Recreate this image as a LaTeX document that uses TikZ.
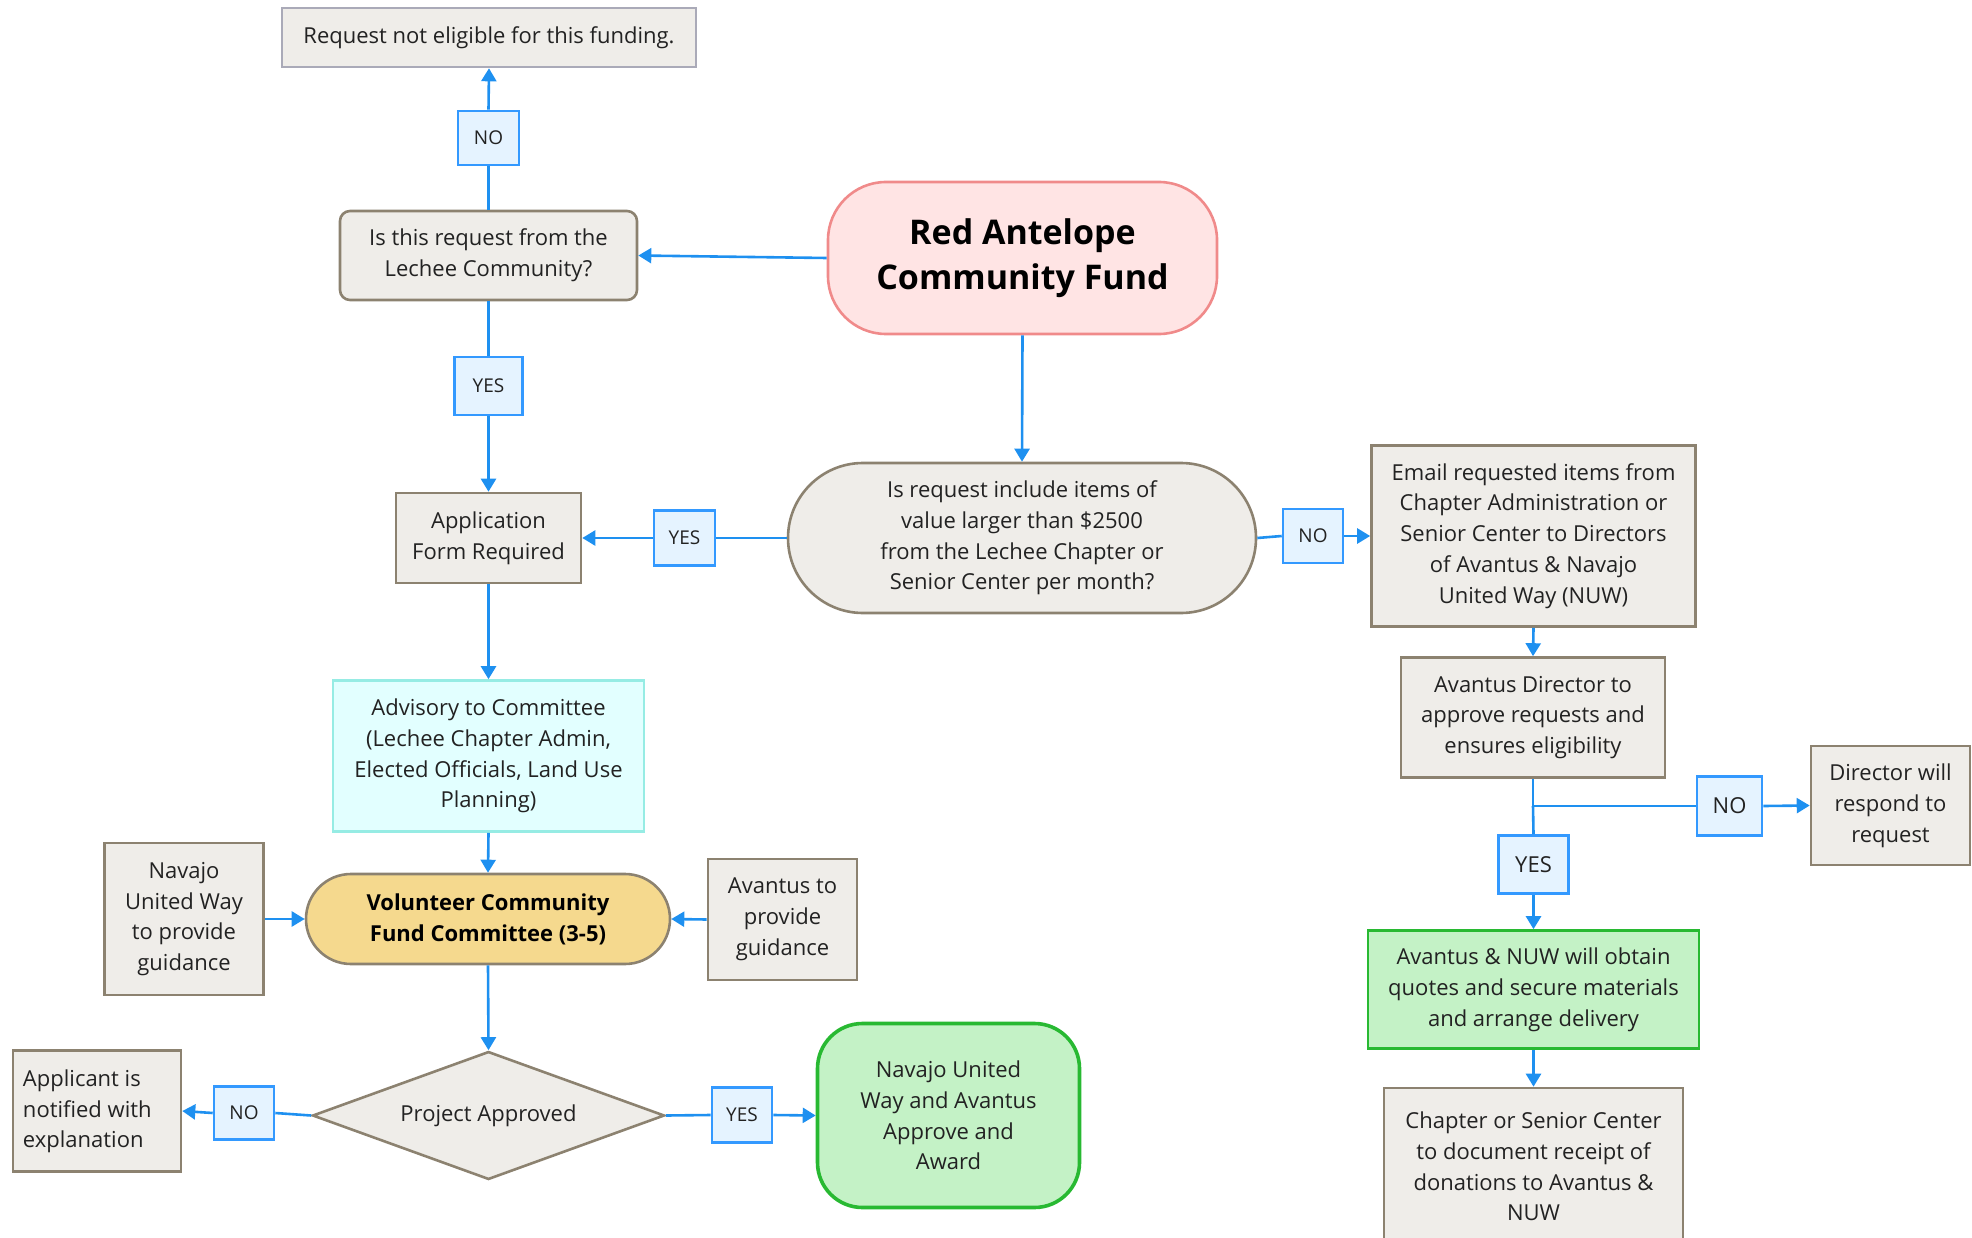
\documentclass[tikz,border=0pt]{standalone}
\usepackage{fontspec}
\setmainfont{Open Sans}
\usetikzlibrary{arrows.meta,shapes.geometric,shapes.misc}
\definecolor{flowblue}{RGB}{30,144,240}
\definecolor{lblfill}{RGB}{229,243,255}
\definecolor{lbldraw}{RGB}{51,153,255}
\definecolor{grayfill}{RGB}{239,237,233}
\definecolor{graydraw}{RGB}{140,130,112}
\definecolor{palegraydraw}{RGB}{170,170,184}
\definecolor{redfill}{RGB}{255,228,228}
\definecolor{reddraw}{RGB}{240,138,138}
\definecolor{cyanfill}{RGB}{226,255,255}
\definecolor{cyandraw}{RGB}{150,236,228}
\definecolor{yellowfill}{RGB}{245,217,142}
\definecolor{greenfill}{RGB}{196,242,198}
\definecolor{greendraw}{RGB}{40,185,50}
\definecolor{txt}{RGB}{34,34,34}
\tikzset{
  basebox/.style={draw=graydraw, fill=grayfill, line width=2.6pt, inner sep=0pt, align=center,
    text=txt, font=\fontsize{22}{30.8}\selectfont},
  graybox/.style={basebox, rectangle},
  lbl/.style={draw=lbldraw, fill=lblfill, line width=2.6pt, inner sep=0pt, text=txt,
    font=\fontsize{19}{22}\selectfont},
  flow/.style={draw=flowblue, line width=2.6pt},
  flowarrow/.style={flow, -{Triangle[width=15pt,length=13pt]}},
}
\begin{document}
\begin{tikzpicture}[x=1pt,y=-1pt]
\useasboundingbox (0,0) rectangle (1972,1238);
\clip (0,0) rectangle (1972,1238);

% main nodes
\node[graybox, draw=palegraydraw, minimum width=414, minimum height=59] (notelig) at (489,37.5) {\raisebox{-2pt}{Request not eligible for this funding.}};
\node[graybox, rounded corners=10pt, minimum width=297, minimum height=89] (lechee) at (488.5,255.5) {Is this request from the\\Lechee Community?};
\node[basebox, draw=reddraw, fill=redfill, rounded corners=58pt, minimum width=389, minimum height=152,
  font=\fontsize{34}{45}\selectfont\bfseries, text=black] (fund) at (1022.5,258) {Red Antelope\\Community Fund};
\node[basebox, rounded rectangle, minimum width=468, minimum height=150] (q2) at (1022,538) {Is request include items of\\value larger than \$2500\\from the Lechee Chapter or\\Senior Center per month?};
\node[graybox, minimum width=185, minimum height=90] (appform) at (488.5,538) {Application\\Form Required};
\node[graybox, minimum width=324, minimum height=181] (email) at (1533.5,536) {Email requested items from\\Chapter Administration or\\Senior Center to Directors\\of Avantus \& Navajo\\United Way (NUW)};
\node[graybox, minimum width=264, minimum height=120] (avdir) at (1533,717.5) {Avantus Director to\\approve requests and\\ensures eligibility};
\node[graybox, minimum width=159, minimum height=119] (dirwill) at (1890.5,805.5) {Director will\\respond to\\request};
\node[graybox, draw=greendraw, fill=greenfill, minimum width=331, minimum height=118] (avnuw) at (1533.5,989.5) {Avantus \& NUW will obtain\\quotes and secure materials\\and arrange delivery};
\node[graybox, minimum width=299, minimum height=157] (chapter) at (1533.5,1166.5) {Chapter or Senior Center\\to document receipt of\\donations to Avantus \&\\NUW};
\node[graybox, draw=cyandraw, fill=cyanfill, minimum width=311, minimum height=151] (advisory) at (488.5,756) {Advisory to Committee\\(Lechee Chapter Admin,\\Elected Officials, Land Use\\Planning)};
\node[basebox, rounded rectangle, fill=yellowfill, minimum width=364, minimum height=90,
  font=\fontsize{22}{31}\selectfont\bfseries, text=black] (volunteer) at (488,919) {Volunteer Community\\Fund Committee (3-5)};
\node[graybox, minimum width=159, minimum height=152] (navuw) at (184,919) {Navajo\\United Way\\to provide\\guidance};
\node[graybox, minimum width=149, minimum height=121] (avguide) at (782.5,919.5) {Avantus to\\provide\\guidance};
\node[basebox, diamond, aspect=2.75, minimum width=352, minimum height=128] (decide) at (488.5,1115.5) {Project Approved};
\node[graybox, align=left, minimum width=168, minimum height=121] (applicant) at (97,1111) {\makebox[148pt][l]{\begin{tabular}{@{}l@{}}Applicant is\\notified with\\explanation\end{tabular}}};
\node[basebox, draw=greendraw, fill=greenfill, line width=3.6pt, rounded corners=45pt, minimum width=262, minimum height=184] (award) at (948.5,1115.5) {Navajo United\\Way and Avantus\\Approve and\\Award};

% junction
\coordinate (junc) at (1533,806);

% connectors
\draw[flowarrow] (fund.west) -- (lechee.east);
\draw[flowarrow] (fund.south) -- (q2.north);
\draw[flowarrow] (appform.south) -- (advisory.north);
\draw[flowarrow] (advisory.south) -- (volunteer.north);
\draw[flowarrow] (navuw.east) -- (volunteer.west);
\draw[flowarrow] (avguide.west) -- (volunteer.east);
\draw[flowarrow] (volunteer.south) -- (decide.north);
\draw[flowarrow] (email.south) -- (avdir.north);
\draw[flowarrow] (avnuw.south) -- (chapter.north);

% labelled connectors
\node[lbl, minimum width=61, minimum height=54] (noA) at (488.5,138) {NO};
\draw[flow] (lechee.north) -- (noA.south);
\draw[flowarrow] (noA.north) -- (notelig.south);

\node[lbl, minimum width=68, minimum height=58] (yesA) at (488.5,386) {YES};
\draw[flow] (lechee.south) -- (yesA.north);
\draw[flowarrow] (yesA.south) -- (appform.north);

\node[lbl, minimum width=61, minimum height=55] (yesB) at (684.5,538) {YES};
\draw[flow] (q2.west) -- (yesB.east);
\draw[flowarrow] (yesB.west) -- (appform.east);

\node[lbl, minimum width=60, minimum height=54] (noB) at (1313,536) {NO};
\draw[flow] (q2.east) -- (noB.west);
\draw[flowarrow] (noB.east) -- (email.west);

\node[lbl, minimum width=65, minimum height=59, font=\fontsize{22}{24}\selectfont] (noC) at (1729.5,806) {NO};
\node[lbl, minimum width=70, minimum height=58, font=\fontsize{22}{24}\selectfont] (yesC) at (1533.5,864.5) {YES};
\draw[flow] (avdir.south) -- (junc) -- (noC.west);
\draw[flowarrow] (noC.east) -- (dirwill.west);
\draw[flow] (junc) -- (yesC.north);
\draw[flowarrow] (yesC.south) -- (avnuw.north);

\node[lbl, minimum width=60, minimum height=53] (noD) at (244,1113) {NO};
\draw[flow] (decide.west) -- (noD.east);
\draw[flowarrow] (noD.west) -- (applicant.east);

\node[lbl, minimum width=60, minimum height=55] (yesD) at (742,1115) {YES};
\draw[flow] (decide.east) -- (yesD.west);
\draw[flowarrow] (yesD.east) -- (award.west);
\end{tikzpicture}
\end{document}
